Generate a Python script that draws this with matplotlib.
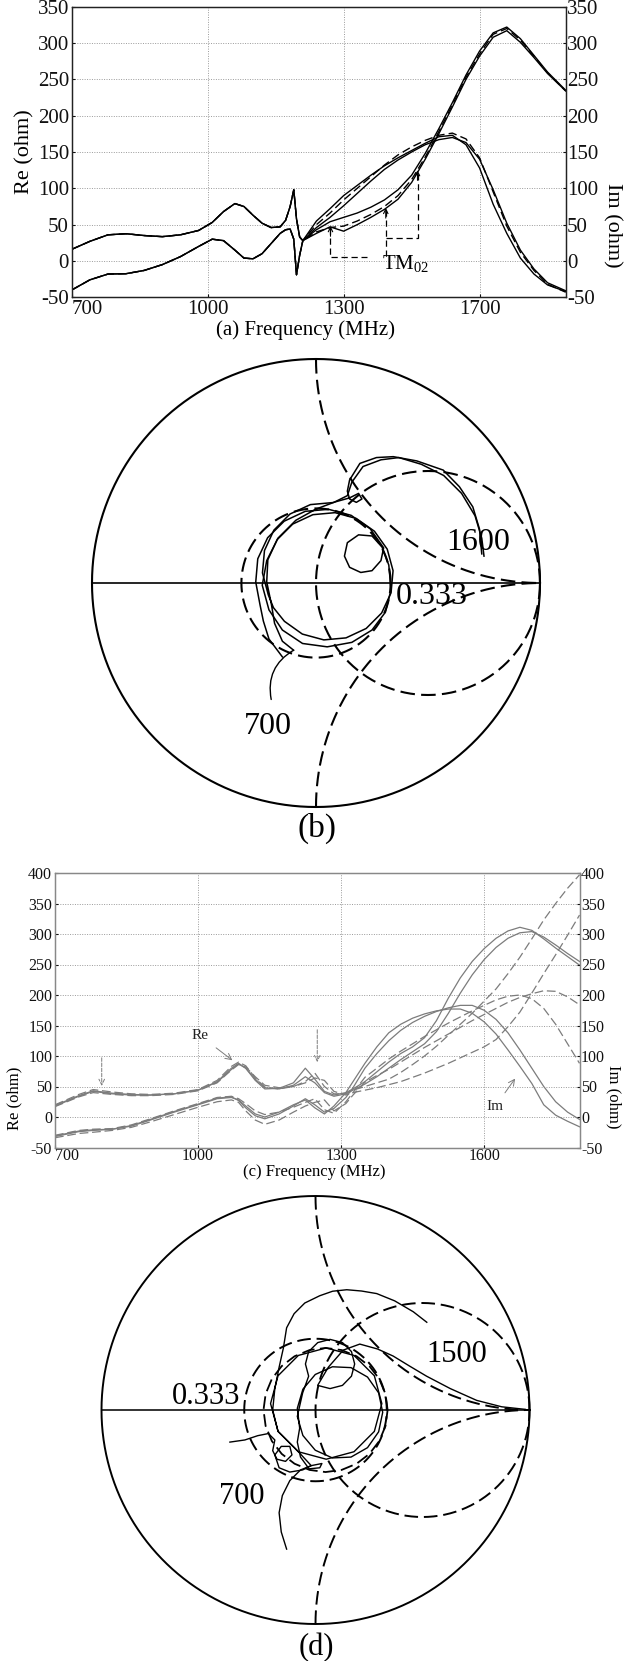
import numpy as np
import matplotlib
matplotlib.use("Agg")
import matplotlib.pyplot as plt

plt.rcParams["font.family"] = ["Liberation Serif", "DejaVu Serif"]
plt.rcParams["mathtext.fontset"] = "custom"
plt.rcParams["mathtext.rm"] = "Liberation Serif"
plt.rcParams["axes.unicode_minus"] = False

# ---------------- panel (a): impedance vs frequency ----------------
fa_low = [700, 740, 780, 820, 860, 900, 940, 980, 1010, 1035, 1060, 1080, 1100,
          1120, 1140, 1160, 1172, 1182, 1190, 1196, 1203, 1210]
re_a_low = [16, 27, 36, 37.5, 35, 33.5, 36, 42, 53, 68, 79, 75, 63, 52, 46, 47, 56, 75,
            98, 58, 33, 28]
im_a_low = [-40, -26, -18, -17.5, -13, -5, 6, 20, 30, 28, 15, 4, 3, 10, 24, 38, 43, 44,
            30, -19, 8, 28]

fa_high = [1210, 1240, 1270, 1300, 1330, 1360, 1390, 1420, 1450, 1480, 1510,
           1540, 1570, 1600, 1630, 1660, 1690, 1720, 1750, 1790]
re_a1 = [28, 38, 47, 41, 50, 60, 71, 85, 108, 140, 175, 212, 250, 282, 308, 317, 301, 280, 258, 234]
re_a2 = [28, 40, 46, 48, 55, 64, 75, 90, 112, 143, 178, 215, 253, 285, 312, 320, 304, 282, 259, 234]
re_a3 = [28, 43, 54, 60, 66, 74, 84, 98, 118, 148, 182, 218, 256, 289, 314, 322, 306, 283, 260, 235]
im_a1 = [28, 55, 72, 90, 104, 118, 131, 142, 152, 162, 171, 173, 160, 128, 78, 38, 4, -18, -33, -42]
im_a2 = [28, 50, 66, 84, 100, 116, 132, 146, 157, 166, 173, 176, 168, 142, 95, 48, 12, -13, -32, -43]
im_a3 = [28, 46, 60, 76, 93, 110, 126, 139, 150, 160, 167, 170, 163, 140, 98, 52, 15, -11, -30, -41]

# ---------------- panel (c): four variants ----------------
fc = [700, 750, 780, 820, 860, 900, 950, 1000, 1040, 1070, 1085, 1100, 1120,
      1140, 1170, 1200, 1225, 1245, 1265, 1285, 1310,
      1325, 1350, 1375, 1400, 1425, 1450, 1475, 1500, 1525, 1550, 1575, 1600,
      1625, 1650, 1675, 1700, 1725, 1750, 1775, 1800]
re_c1 = [18, 34, 42, 38, 36, 36, 38, 44, 58, 80, 88, 80, 60, 46, 47, 56, 80, 62, 42, 36, 40,
         46, 58, 74, 90, 104, 115, 130, 158, 195, 228, 255, 276, 293, 305, 311, 306, 292, 277,
         263, 249]
re_c2 = [20, 37, 45, 41, 38, 37, 39, 45, 60, 83, 90, 84, 64, 49, 46, 50, 58, 72, 50, 38, 38,
         44, 50, 56, 62, 73, 86, 100, 116, 134, 152, 170, 190, 210, 235, 262, 292, 323, 350,
         375, 397]
re_c3 = [17, 33, 40, 37, 35, 35, 37, 43, 56, 77, 86, 82, 66, 52, 48, 50, 56, 64, 60, 42, 36,
         40, 44, 48, 53, 58, 65, 72, 80, 88, 97, 106, 115, 127, 148, 172, 203, 235, 266,
         298, 331]
re_c4 = [19, 35, 43, 39, 37, 36, 38, 44, 57, 78, 87, 80, 62, 48, 46, 52, 66, 56, 40, 34, 38,
         44, 54, 66, 80, 94, 107, 120, 140, 170, 203, 233, 258, 278, 293, 302, 304, 295, 282,
         268, 255]
im_c1 = [-32, -24, -22, -20, -15, -5, 8, 20, 30, 32, 28, 18, 5, 0, 8, 20, 28, 15, 5, 18, 40,
         58, 88, 115, 138, 152, 162, 169, 174, 177, 177, 170, 156, 136, 110, 83, 55, 20, 3,
         -7, -16]
im_c2 = [-30, -22, -20, -19, -13, -3, 10, 22, 32, 34, 30, 22, 10, 4, 8, 16, 24, 30, 12, 6, 25,
         40, 65, 80, 95, 108, 120, 132, 143, 154, 164, 174, 183, 192, 198, 200, 194, 178, 152,
         120, 88]
im_c3 = [-34, -27, -25, -22, -17, -8, 4, 16, 25, 28, 24, 10, -5, -12, -5, 8, 18, 24, 28, 10, 22,
         36, 57, 68, 78, 90, 102, 114, 125, 136, 147, 158, 168, 178, 188, 196, 202, 207, 206,
         197, 184]
im_c4 = [-31, -23, -21, -20, -14, -4, 9, 21, 31, 33, 27, 15, 2, -3, 5, 18, 30, 20, 8, 14, 32,
         48, 80, 104, 125, 142, 155, 165, 173, 179, 183, 183, 175, 160, 138, 110, 80, 50, 25,
         8, -4]

# ---------------- panel (b): reflection coefficient loci ----------------
gb1_re = [-0.10, -0.15, -0.185, -0.20, -0.22, -0.215, -0.173, -0.104, -0.014, 0.085, 0.18,
          0.261, 0.318, 0.344, 0.335, 0.293, 0.224, 0.134, 0.035, -0.061, -0.141, -0.19,
          -0.213, -0.239, -0.23, -0.188, -0.116, -0.025, 0.075, 0.15, 0.19, 0.205, 0.18, 0.15,
          0.14, 0.15, 0.196, 0.27, 0.345, 0.45, 0.568, 0.64, 0.70, 0.73, 0.74]
gb1_im = [-0.30, -0.26, -0.18, -0.09, 0.005, 0.104, 0.194, 0.263, 0.305, 0.314, 0.288,
          0.231, 0.151, 0.055, -0.044, -0.134, -0.203, -0.245, -0.254, -0.228, -0.171, -0.11,
          -0.053, 0.045, 0.145, 0.236, 0.308, 0.35, 0.359, 0.38, 0.40, 0.375, 0.36, 0.375,
          0.41, 0.46, 0.534, 0.56, 0.564, 0.545, 0.504, 0.43, 0.34, 0.24, 0.13]
gb2_re = [-0.15, -0.21, -0.235, -0.25, -0.269, -0.26, -0.216, -0.142, -0.048, 0.056, 0.157,
          0.242, 0.302, 0.29, 0.25, 0.20, 0.15, 0.127, 0.14, 0.19, 0.25, 0.295, 0.325, 0.335,
          0.31, 0.25, 0.16, 0.05, -0.06, -0.15, -0.21, -0.24, -0.22, -0.17, -0.09, 0.0, 0.08,
          0.14, 0.16, 0.21, 0.29, 0.37, 0.47, 0.57, 0.65, 0.71, 0.74, 0.75]
gb2_im = [-0.33, -0.25, -0.17, -0.097, 0.004, 0.108, 0.202, 0.276, 0.32, 0.329, 0.302, 0.242,
          0.157, 0.10, 0.055, 0.047, 0.07, 0.12, 0.18, 0.215, 0.21, 0.16, 0.08, -0.03, -0.13,
          -0.21, -0.265, -0.285, -0.27, -0.21, -0.12, -0.01, 0.10, 0.20, 0.28, 0.33, 0.36,
          0.39, 0.45, 0.52, 0.55, 0.56, 0.53, 0.48, 0.40, 0.30, 0.20, 0.12]

# ---------------- panel (d) ----------------
gd1_re = [-0.135, -0.16, -0.17, -0.155, -0.12, -0.07, -0.02, 0.03, 0.02, -0.03, -0.07,
          -0.085, -0.074, -0.085, -0.059, -0.001, 0.079, 0.166, 0.243, 0.295, 0.314, 0.295,
          0.243, 0.166, 0.079, -0.001, -0.059, -0.085, -0.06, -0.032, -0.047, -0.032, 0.0105,
          0.068, 0.126, 0.168, 0.183, 0.168, 0.126, 0.068, 0.01, 0.06, 0.13, 0.207, 0.29,
          0.363, 0.44, 0.519, 0.63, 0.753, 0.87, 0.98]
gd1_im = [-0.65, -0.57, -0.48, -0.40, -0.33, -0.28, -0.26, -0.25, -0.27, -0.275, -0.22,
          -0.15, -0.085, 0.008, 0.097, 0.166, 0.202, 0.198, 0.154, 0.08, -0.011, -0.102,
          -0.176, -0.22, -0.224, -0.188, -0.119, -0.03, 0.08, 0.158, 0.215, 0.273, 0.315,
          0.33, 0.315, 0.273, 0.215, 0.158, 0.115, 0.10, 0.115, 0.20, 0.28, 0.308, 0.285,
          0.252, 0.205, 0.158, 0.10, 0.045, 0.015, 0.003]
gd2_re = [-0.40, -0.33, -0.27, -0.22, -0.19, -0.20, -0.18, -0.14, -0.11, -0.12, -0.16, -0.19,
          -0.17, -0.12, -0.06, -0.02, -0.08, -0.175, -0.21, -0.175, -0.08, 0.05, 0.18, 0.275,
          0.31, 0.275, 0.18, 0.05, -0.08, -0.175, -0.20, -0.19, -0.17, -0.15, -0.135, -0.10,
          -0.05, 0.02, 0.08, 0.146, 0.215, 0.286, 0.37, 0.457, 0.52]
gd2_im = [-0.15, -0.14, -0.12, -0.11, -0.14, -0.19, -0.23, -0.24, -0.21, -0.17, -0.17, -0.21,
          -0.27, -0.29, -0.28, -0.26, -0.195, -0.10, 0.03, 0.16, 0.255, 0.29, 0.255, 0.16,
          0.03, -0.10, -0.195, -0.23, -0.195, -0.10, 0.0, 0.10, 0.20, 0.29, 0.384, 0.45,
          0.50, 0.534, 0.555, 0.562, 0.556, 0.544, 0.51, 0.459, 0.41]
gd3_re = [0.337, 0.327, 0.298, 0.252, 0.192, 0.122, 0.047, -0.028, -0.098, -0.158, -0.204,
          -0.233, -0.243, -0.233, -0.204, -0.158, -0.098, -0.028, 0.047, 0.122, 0.192, 0.252,
          0.298, 0.327, 0.337]
gd3_im = [0.0, 0.075, 0.145, 0.205, 0.251, 0.28, 0.29, 0.28, 0.251, 0.205, 0.145, 0.075, 0.0,
          -0.075, -0.145, -0.205, -0.251, -0.28, -0.29, -0.28, -0.251, -0.205, -0.145,
          -0.075, 0.0]

W, H = 630, 1661
fig = plt.figure(figsize=(W / 100, H / 100), dpi=100)


def box(l, t, r, b):
    return [l / W, 1 - b / H, (r - l) / W, (b - t) / H]


def ftext(x, y, s, **kw):
    fig.text(x / W, 1 - y / H, s, ha="center", va="center", **kw)


def freq_axes(rect, xmax, ymax, xlabels, fs, spine_col, xpad):
    ax = fig.add_axes(rect)
    ax.set_xlim(700, xmax)
    ax.set_ylim(-50, ymax)
    ax.set_xticks([700, 1000, 1300, 1600], labels=xlabels)
    ax.get_xticklabels()[0].set_horizontalalignment("left")
    yt = list(range(-50, ymax + 1, 50))
    ax.set_yticks(yt)
    ax.grid(True, ls=(0, (1, 1.5)), color="#9a9a9a", lw=0.7)
    ax.tick_params(labelsize=fs, length=2, direction="in", pad=2, colors="#111")
    ax.tick_params(axis="x", pad=xpad)
    for s in ax.spines.values():
        s.set_color(spine_col)
        s.set_linewidth(0.9)
    ax2 = ax.twinx()
    ax2.set_ylim(-50, ymax)
    ax2.set_yticks(yt)
    ax2.tick_params(labelsize=fs, length=2, direction="in", pad=1, colors="#111")
    for s in ax2.spines.values():
        s.set_color(spine_col)
        s.set_linewidth(0.9)
    return ax


# (a)
ax = freq_axes(box(71.7, 6.7, 565.7, 297.3), 1790, 350, ["700", "1000", "1300", "1700"],
               15, "#222", 2)
fa = fa_low + fa_high[1:]
solid = dict(color="k", lw=1.0)
dash = dict(color="k", lw=1.0, dashes=(6, 3))
for re_h, im_h, st in [(re_a1, im_a1, solid), (re_a2, im_a2, dash), (re_a3, im_a3, solid)]:
    ax.plot(fa, re_a_low + re_h[1:], **st)
    ax.plot(fa, im_a_low + im_h[1:], **st)
tm = dict(color="k", lw=0.9, dashes=(5, 3))
ax.plot([1271, 1271, 1352], [45, 6, 6], **tm)
ax.plot([1393, 1393], [70, 2], **tm)
ax.plot([1393, 1463, 1463], [32, 32, 122], **tm)
for x, y in [(1271, 48), (1393, 73), (1463, 125)]:
    ax.annotate("", xy=(x, y), xytext=(x, y - 14),
                arrowprops=dict(arrowstyle="->", lw=0.8, color="k",
                                shrinkA=0, shrinkB=0, mutation_scale=8))
ax.text(1437, -4, r"TM$_{\mathrm{02}}$", ha="center", va="center", fontsize=15)
ftext(305, 330, "(a) Frequency (MHz)", fontsize=15)
ftext(25, 152, "Re (ohm)", rotation=90, fontsize=16)
ftext(612, 225, "Im (ohm)", rotation=270, fontsize=16)


def smith_axes(cx, cy, r, half, lw):
    axs = fig.add_axes(box(cx - half, cy - half, cx + half, cy + half))
    lim = half / r
    axs.set_xlim(-lim, lim)
    axs.set_ylim(-lim, lim)
    axs.axis("off")
    t = np.linspace(0, 2 * np.pi, 361)
    arc = np.linspace(np.pi, 1.5 * np.pi, 150)
    axs.plot(np.cos(t), np.sin(t), color="k", lw=lw)
    axs.plot([-1, 1], [0, 0], color="k", lw=lw * 0.8)
    d = dict(color="k", lw=lw, dashes=(7, 3))
    axs.plot(0.5 + 0.5 * np.cos(t), 0.5 * np.sin(t), **d)
    axs.plot(1 + np.cos(arc), 1 + np.sin(arc), **d)
    axs.plot(1 + np.cos(arc), -1 - np.sin(arc), **d)
    axs.plot(0.333 * np.cos(t), 0.333 * np.sin(t), **d)
    return axs


# (b)
axb = smith_axes(316, 583, 224, 232, 1.5)
axb.plot(gb1_re, gb1_im, color="k", lw=1.1)
axb.plot(gb2_re, gb2_im, color="k", lw=1.1)
axb.annotate("", xy=(-0.10, -0.30), xytext=(-0.20, -0.52),
             arrowprops=dict(arrowstyle="-", lw=1.0, color="k",
                             connectionstyle="arc3,rad=-0.35", shrinkA=0, shrinkB=0))
ftext(478, 542, "1600", fontsize=23)
ftext(432, 597, "0.333", fontsize=23)
ftext(268, 727, "700", fontsize=23)
ftext(317, 828, "(b)", fontsize=24)

# (c)
axc = freq_axes(box(55, 873, 579.5, 1147.5), 1800, 400, ["700", "1000", "1300", "1600"],
                11.5, "#888", 0.5)
gray = "#7c7c7c"
cs = dict(color=gray, lw=0.9)
cd = dict(color=gray, lw=0.9, dashes=(7, 3))
for y, st in [(re_c1, cs), (re_c2, cd), (re_c3, cd), (re_c4, cs),
              (im_c1, cs), (im_c2, cd), (im_c3, cd), (im_c4, cs)]:
    axc.plot(fc, y, **st)
axc.annotate("Re", xy=(1072, 93), xytext=(1005, 133), fontsize=11, color="#222",
             ha="center", va="center",
             arrowprops=dict(arrowstyle="->", lw=0.7, color=gray, shrinkA=4, shrinkB=0))
axc.annotate("Im", xy=(1665, 63), xytext=(1623, 17), fontsize=11, color="#222",
             ha="center", va="center",
             arrowprops=dict(arrowstyle="->", lw=0.7, color=gray, shrinkA=4, shrinkB=0))
for x, y0, y1 in [(798, 97, 51), (1250, 143, 90)]:
    axc.annotate("", xy=(x, y1), xytext=(x, y0),
                 arrowprops=dict(arrowstyle="->", lw=0.7, color=gray, ls="--",
                                 shrinkA=0, shrinkB=0))
ftext(314, 1172, "(c) Frequency (MHz)", fontsize=12)
ftext(14, 1098, "Re (ohm)", rotation=90, fontsize=12)
ftext(614, 1097, "Im (ohm)", rotation=270, fontsize=12)

# (d)
axd = smith_axes(315.5, 1410, 214, 222, 1.4)
axd.plot(gd1_re, gd1_im, color="k", lw=1.0)
axd.plot(gd2_re, gd2_im, color="k", lw=1.0)
axd.plot(gd3_re, gd3_im, color="k", lw=1.3, dashes=(7, 3))
ftext(457, 1354, "1500", fontsize=22)
ftext(206, 1396, "0.333", fontsize=22)
ftext(242, 1497, "700", fontsize=22)
ftext(316, 1648, "(d)", fontsize=22)

fig.savefig("out.png", dpi=100, facecolor="white")
